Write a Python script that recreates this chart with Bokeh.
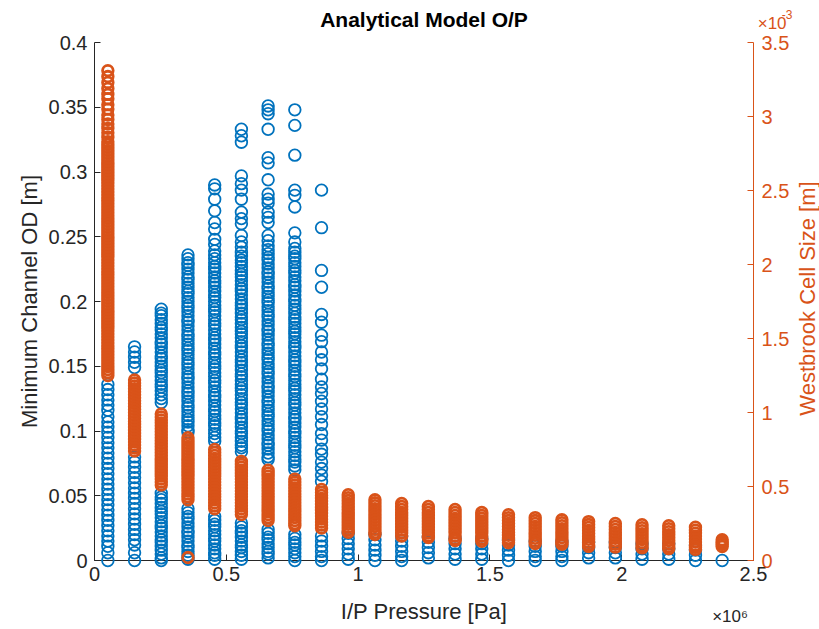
from math import pi
from bokeh.plotting import figure
from bokeh.models import Range1d, LinearAxis, FixedTicker, CustomJSTickFormatter, Label
from bokeh.embed import file_html
from bokeh.resources import INLINE

# ---------------- data ----------------
# input pressures (Pa), one column of results per pressure step
pressure_pa = [50662, 151988, 253312, 354638, 455962, 557288, 658612, 759938,
               861262, 962588, 1063912, 1165238, 1266562, 1367888, 1469212, 1570538,
               1671862, 1773188, 1874512, 1975838, 2077162, 2178488, 2279812, 2381138]

x_ticks = [0, 500000, 1000000, 1500000, 2000000, 2500000]
od_ticks = [0, 0.05, 0.1, 0.15, 0.2, 0.25, 0.3, 0.35, 0.4]
cell_ticks = [0, 0.5, 1.0, 1.5, 2.0, 2.5, 3.0, 3.5]   # x 1e-3 m

# Minimum channel OD [m] per pressure column (left axis)
od_0 = [0.136, 0.132, 0.128, 0.124, 0.12, 0.116, 0.111, 0.107, 0.103, 0.099, 0.095, 0.091,
        0.087, 0.083, 0.079, 0.075, 0.071, 0.067, 0.063, 0.059, 0.055, 0.051, 0.047, 0.043,
        0.039, 0.035, 0.031, 0.027, 0.023, 0.019, 0.015, 0.011, 0.006, 0.0]
od_1 = [0.165, 0.161, 0.157, 0.153, 0.149, 0.08, 0.076, 0.072, 0.068, 0.064, 0.06, 0.056,
        0.052, 0.048, 0.044, 0.04, 0.036, 0.032, 0.028, 0.024, 0.02, 0.016, 0.012, 0.006, 0.0]
od_2 = [0.194, 0.191, 0.189, 0.186, 0.183, 0.18, 0.178, 0.175, 0.172, 0.169, 0.167, 0.164,
        0.161, 0.158, 0.156, 0.153, 0.15, 0.147, 0.145, 0.142, 0.139, 0.136, 0.134, 0.131,
        0.128, 0.125, 0.122, 0.052, 0.049, 0.047, 0.044, 0.041, 0.038, 0.036, 0.033, 0.03,
        0.027, 0.025, 0.022, 0.019, 0.016, 0.014, 0.011, 0.008, 0.005, 0.002, 0.0]
od_3 = [0.236, 0.233, 0.23, 0.228, 0.225, 0.222, 0.219, 0.217, 0.214, 0.211, 0.208, 0.206,
        0.203, 0.2, 0.197, 0.195, 0.192, 0.189, 0.186, 0.184, 0.181, 0.178, 0.175, 0.173,
        0.17, 0.167, 0.164, 0.162, 0.159, 0.156, 0.153, 0.151, 0.148, 0.145, 0.142, 0.14,
        0.137, 0.134, 0.131, 0.129, 0.126, 0.123, 0.12, 0.118, 0.115, 0.112, 0.109, 0.107,
        0.104, 0.101, 0.099, 0.04, 0.037, 0.034, 0.032, 0.029, 0.026, 0.023, 0.021, 0.018,
        0.015, 0.012, 0.01, 0.007, 0.004, 0.001]
od_4 = [0.29, 0.287, 0.279, 0.27, 0.261, 0.256, 0.248, 0.244, 0.239, 0.236, 0.233, 0.23,
        0.227, 0.225, 0.222, 0.219, 0.216, 0.214, 0.211, 0.208, 0.205, 0.203, 0.2, 0.197,
        0.194, 0.192, 0.189, 0.186, 0.183, 0.181, 0.178, 0.175, 0.172, 0.17, 0.167, 0.164,
        0.161, 0.159, 0.156, 0.153, 0.15, 0.148, 0.145, 0.142, 0.139, 0.137, 0.134, 0.131,
        0.128, 0.126, 0.123, 0.12, 0.117, 0.115, 0.112, 0.109, 0.106, 0.104, 0.101, 0.098,
        0.095, 0.092, 0.034, 0.031, 0.028, 0.026, 0.023, 0.02, 0.017, 0.015, 0.012, 0.009,
        0.006, 0.004, 0.001]
od_5 = [0.333, 0.328, 0.323, 0.297, 0.291, 0.286, 0.279, 0.269, 0.264, 0.26, 0.251, 0.246,
        0.242, 0.238, 0.235, 0.232, 0.23, 0.227, 0.224, 0.221, 0.219, 0.216, 0.213, 0.21,
        0.208, 0.205, 0.202, 0.199, 0.197, 0.194, 0.191, 0.188, 0.186, 0.183, 0.18, 0.177,
        0.175, 0.172, 0.169, 0.166, 0.164, 0.161, 0.158, 0.155, 0.153, 0.15, 0.147, 0.144,
        0.142, 0.139, 0.136, 0.133, 0.131, 0.128, 0.125, 0.122, 0.12, 0.117, 0.114, 0.111,
        0.109, 0.106, 0.103, 0.1, 0.098, 0.095, 0.092, 0.089, 0.087, 0.084, 0.029, 0.026,
        0.023, 0.021, 0.018, 0.015, 0.012, 0.01, 0.007, 0.004, 0.001]
od_6 = [0.351, 0.348, 0.345, 0.333, 0.311, 0.307, 0.294, 0.283, 0.279, 0.276, 0.269, 0.265,
        0.261, 0.251, 0.247, 0.243, 0.24, 0.237, 0.234, 0.232, 0.229, 0.226, 0.223, 0.221,
        0.218, 0.215, 0.212, 0.21, 0.207, 0.204, 0.201, 0.199, 0.196, 0.193, 0.19, 0.188,
        0.185, 0.182, 0.179, 0.177, 0.174, 0.171, 0.168, 0.166, 0.163, 0.16, 0.157, 0.155,
        0.152, 0.149, 0.146, 0.144, 0.141, 0.138, 0.135, 0.133, 0.13, 0.127, 0.124, 0.122,
        0.119, 0.116, 0.113, 0.111, 0.108, 0.105, 0.102, 0.1, 0.097, 0.094, 0.091, 0.089,
        0.086, 0.083, 0.08, 0.078, 0.024, 0.021, 0.018, 0.016, 0.013, 0.01, 0.007, 0.005,
        0.002]
od_7 = [0.348, 0.336, 0.313, 0.286, 0.282, 0.273, 0.253, 0.246, 0.241, 0.238, 0.235, 0.233,
        0.23, 0.227, 0.224, 0.222, 0.219, 0.216, 0.213, 0.211, 0.208, 0.205, 0.202, 0.2,
        0.197, 0.194, 0.191, 0.188, 0.186, 0.183, 0.18, 0.177, 0.175, 0.172, 0.169, 0.166,
        0.164, 0.161, 0.158, 0.155, 0.153, 0.15, 0.147, 0.144, 0.142, 0.139, 0.136, 0.133,
        0.131, 0.128, 0.125, 0.122, 0.12, 0.117, 0.114, 0.111, 0.109, 0.106, 0.103, 0.1,
        0.098, 0.095, 0.092, 0.089, 0.087, 0.084, 0.081, 0.078, 0.076, 0.073, 0.07, 0.02,
        0.017, 0.014, 0.012, 0.009, 0.006, 0.003, 0.0]
od_8 = [0.286, 0.257, 0.224, 0.211, 0.19, 0.184, 0.174, 0.169, 0.161, 0.155, 0.148, 0.14,
        0.134, 0.129, 0.123, 0.117, 0.111, 0.105, 0.098, 0.093, 0.086, 0.082, 0.076, 0.071,
        0.066, 0.061, 0.019, 0.015, 0.011, 0.007, 0.003, 0.0]
od_9 = [0.021, 0.017, 0.013, 0.009, 0.005, 0.001]
od_10 = [0.02, 0.016, 0.012, 0.008, 0.004, 0.0]
od_11 = [0.019, 0.015, 0.011, 0.007, 0.003, 0.0]
od_12 = [0.018, 0.014, 0.01, 0.006, 0.002]
od_13 = [0.017, 0.013, 0.009, 0.005, 0.001]
od_14 = [0.017, 0.013, 0.009, 0.005, 0.001]
od_15 = [0.016, 0.012, 0.008, 0.004, 0.0]
od_16 = [0.015, 0.011, 0.007, 0.003, 0.0]
od_17 = [0.015, 0.011, 0.007, 0.003, 0.0]
od_18 = [0.014, 0.01, 0.006, 0.002]
od_19 = [0.014, 0.01, 0.006, 0.002]
od_20 = [0.013, 0.009, 0.005, 0.001]
od_21 = [0.013, 0.009, 0.005, 0.001]
od_22 = [0.012, 0.008, 0.004, 0.0]
od_23 = [0.0]

# Westbrook cell size [x 1e-3 m] per pressure column (right axis)
cs_0 = [3.31, 3.27, 3.23, 3.19, 3.15, 3.12, 3.08, 3.05, 3.01, 2.98, 2.95, 2.92, 2.89, 2.86,
        2.83, 2.81, 2.79, 2.77, 2.75, 2.73, 2.71, 2.69, 2.67, 2.65, 2.63, 2.61, 2.59, 2.57,
        2.55, 2.53, 2.51, 2.49, 2.47, 2.45, 2.43, 2.41, 2.39, 2.37, 2.35, 2.33, 2.31, 2.29,
        2.27, 2.25, 2.23, 2.21, 2.19, 2.17, 2.15, 2.13, 2.11, 2.09, 2.07, 2.05, 2.03, 2.01,
        1.99, 1.97, 1.95, 1.93, 1.91, 1.89, 1.87, 1.85, 1.83, 1.81, 1.79, 1.77, 1.75, 1.73,
        1.71, 1.69, 1.67, 1.65, 1.63, 1.61, 1.59, 1.57, 1.55, 1.53, 1.51, 1.49, 1.47, 1.45,
        1.43, 1.41, 1.39, 1.37, 1.35, 1.33, 1.31, 1.29, 1.27, 1.25]
cs_1 = [1.22, 1.20, 1.18, 1.16, 1.14, 1.12, 1.10, 1.08, 1.06, 1.04, 1.02, 1.00, 0.98, 0.96,
        0.94, 0.92, 0.90, 0.88, 0.86, 0.84, 0.82, 0.80, 0.78, 0.76, 0.74]
cs_2 = [0.99, 0.97, 0.95, 0.93, 0.91, 0.89, 0.87, 0.85, 0.83, 0.81, 0.79, 0.77, 0.75, 0.73,
        0.71, 0.69, 0.67, 0.65, 0.63, 0.61, 0.59, 0.57, 0.55, 0.53, 0.51]
cs_3 = [0.83, 0.81, 0.79, 0.77, 0.75, 0.73, 0.71, 0.69, 0.67, 0.65, 0.63, 0.61, 0.59, 0.57,
        0.55, 0.53, 0.51, 0.49, 0.47, 0.45, 0.43, 0.41, 0.02]
cs_4 = [0.75, 0.73, 0.71, 0.69, 0.67, 0.65, 0.63, 0.61, 0.59, 0.57, 0.55, 0.53, 0.51, 0.49,
        0.47, 0.45, 0.43, 0.41, 0.39, 0.37, 0.35]
cs_5 = [0.67, 0.65, 0.63, 0.61, 0.59, 0.57, 0.55, 0.53, 0.51, 0.49, 0.47, 0.45, 0.43, 0.41,
        0.39, 0.37, 0.35, 0.33, 0.31]
cs_6 = [0.61, 0.59, 0.57, 0.55, 0.53, 0.51, 0.49, 0.47, 0.45, 0.43, 0.41, 0.39, 0.37, 0.35,
        0.33, 0.31, 0.29, 0.27]
cs_7 = [0.55, 0.53, 0.51, 0.49, 0.47, 0.45, 0.43, 0.41, 0.39, 0.37, 0.35, 0.33, 0.31, 0.29,
        0.27, 0.25, 0.235]
cs_8 = [0.48, 0.46, 0.44, 0.42, 0.40, 0.38, 0.36, 0.34, 0.32, 0.30, 0.28, 0.26, 0.24, 0.22]
cs_9 = [0.445, 0.425, 0.405, 0.385, 0.365, 0.345, 0.325, 0.305, 0.285, 0.265, 0.245, 0.225,
        0.205, 0.19]
cs_10 = [0.41, 0.39, 0.37, 0.35, 0.33, 0.31, 0.29, 0.27, 0.25, 0.23, 0.21, 0.19, 0.175]
cs_11 = [0.385, 0.365, 0.345, 0.325, 0.305, 0.285, 0.265, 0.245, 0.225, 0.205, 0.185, 0.165]
cs_12 = [0.365, 0.345, 0.325, 0.305, 0.285, 0.265, 0.245, 0.225, 0.205, 0.185, 0.165, 0.155]
cs_13 = [0.345, 0.325, 0.305, 0.285, 0.265, 0.245, 0.225, 0.205, 0.185, 0.165, 0.145, 0.135]
cs_14 = [0.325, 0.305, 0.285, 0.265, 0.245, 0.225, 0.205, 0.185, 0.165, 0.145, 0.13]
cs_15 = [0.31, 0.29, 0.27, 0.25, 0.23, 0.21, 0.19, 0.17, 0.15, 0.135, 0.12]
cs_16 = [0.29, 0.27, 0.25, 0.23, 0.21, 0.19, 0.17, 0.15, 0.13, 0.115]
cs_17 = [0.275, 0.255, 0.235, 0.215, 0.195, 0.175, 0.155, 0.135, 0.12, 0.11]
cs_18 = [0.263, 0.243, 0.223, 0.203, 0.183, 0.163, 0.143, 0.123, 0.105, 0.095]
cs_19 = [0.25, 0.23, 0.21, 0.19, 0.17, 0.15, 0.13, 0.11, 0.09]
cs_20 = [0.242, 0.222, 0.202, 0.182, 0.162, 0.142, 0.122, 0.10, 0.085]
cs_21 = [0.235, 0.215, 0.195, 0.175, 0.155, 0.135, 0.115, 0.095, 0.08]
cs_22 = [0.225, 0.205, 0.185, 0.165, 0.145, 0.125, 0.105, 0.09, 0.075]
cs_23 = [0.14, 0.125, 0.11, 0.095]

od_columns = [od_0, od_1, od_2, od_3, od_4, od_5, od_6, od_7, od_8, od_9, od_10, od_11,
              od_12, od_13, od_14, od_15, od_16, od_17, od_18, od_19, od_20, od_21, od_22, od_23]
cs_columns = [cs_0, cs_1, cs_2, cs_3, cs_4, cs_5, cs_6, cs_7, cs_8, cs_9, cs_10, cs_11,
              cs_12, cs_13, cs_14, cs_15, cs_16, cs_17, cs_18, cs_19, cs_20, cs_21, cs_22, cs_23]

# flatten into scatter coordinates
od_x, od_y = [], []
for px, vals in zip(pressure_pa, od_columns):
    od_x += [px] * len(vals)
    od_y += vals
cs_x, cs_y = [], []
for px, vals in zip(pressure_pa, cs_columns):
    cs_x += [px] * len(vals)
    cs_y += vals

# ---------------- styling ----------------
BLUE = "#0072BD"
ORANGE = "#D95319"
AXC = "#262626"
FONT = "Liberation Sans"

p = figure(width=819, height=629, x_range=Range1d(0, 2500000), y_range=Range1d(0, 0.4),
           output_backend="svg", toolbar_location=None,
           min_border_left=94, min_border_right=66, min_border_top=40, min_border_bottom=69)
p.extra_y_ranges = {"cell": Range1d(0, 3.5)}
p.background_fill_color = "white"
p.border_fill_color = "white"
p.outline_line_color = None
p.xgrid.visible = False
p.ygrid.visible = False

# markers drawn on the overlay level so that, as in the original, circles at 0 are not cut by the axes
p.scatter(od_x, od_y, marker="circle", size=11.6, fill_color=None,
          line_color=BLUE, line_width=1.8, level="overlay")
p.scatter(cs_x, cs_y, marker="circle", size=10.6, fill_color=None,
          line_color=ORANGE, line_width=2.8, y_range_name="cell", level="overlay")

def style_axis(ax, color, standoff):
    ax.axis_line_color = color
    ax.axis_line_width = 1
    ax.major_tick_line_color = color
    ax.major_tick_in = 6
    ax.major_tick_out = 0
    ax.minor_tick_line_color = None
    ax.major_label_text_color = color
    ax.major_label_text_font = FONT
    ax.major_label_text_font_size = "20px"
    ax.major_label_standoff = standoff
    ax.axis_label_text_font = FONT
    ax.axis_label_text_font_size = "22px"
    ax.axis_label_text_font_style = "normal"
    ax.axis_label_text_color = color

xax = p.below[0]
style_axis(xax, AXC, 6)
xax.ticker = FixedTicker(ticks=x_ticks)
xax.formatter = CustomJSTickFormatter(code="return (tick/1e6).toString();")

yax = p.left[0]
style_axis(yax, AXC, 7)
yax.ticker = FixedTicker(ticks=od_ticks)
yax.formatter = CustomJSTickFormatter(code="return (Math.round(tick*100)/100).toString();")
yax.axis_label = "Minimum Channel OD [m]"
yax.axis_label_standoff = 4

rax = LinearAxis(y_range_name="cell")
style_axis(rax, ORANGE, 8)
rax.ticker = FixedTicker(ticks=cell_ticks)
rax.formatter = CustomJSTickFormatter(code="return tick.toString();")
p.add_layout(rax, "right")

# Texts outside the frame: labels kept in the side panels (so they are not clipped),
# positioned in data coordinates of the plot.
def side_label(side, text, x, y, size, color, align="center", angle=0.0, bold=False,
               y_range_name="default"):
    lab = Label(x=x, y=y, text=text, y_range_name=y_range_name, angle=angle,
                text_font=FONT, text_font_size=size, text_color=color,
                text_font_style="bold" if bold else "normal",
                text_align=align, text_baseline="middle")
    p.add_layout(lab, side)

side_label("above", "Analytical Model O/P", 1250000, 0.418, "21px", "#000000", bold=True)
side_label("above", "×10", 2516000, 0.4148, "17px", ORANGE, align="left")
side_label("left", "-3", 2607000, 0.4215, "12px", ORANGE, align="left")
side_label("below", "I/P Pressure [Pa]", 1250000, -0.0394, "22px", AXC)
side_label("below", "×10⁶", 2479000, -0.0432, "17px", AXC, align="right")
side_label("right", "Westbrook Cell Size [m]", 2703000, 1.77, "22px", ORANGE,
           angle=pi / 2, y_range_name="cell")

open("out.html", "w").write(file_html(p, INLINE))
